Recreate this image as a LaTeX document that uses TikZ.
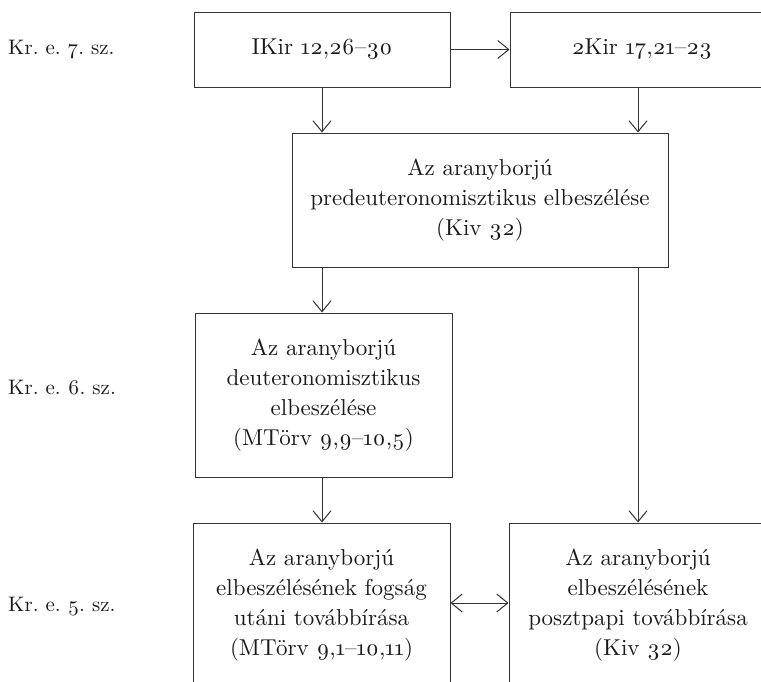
\documentclass[tikz,border=0pt]{standalone}
\usepackage{fontspec}
\setmainfont{lmroman10-regular.otf}[Numbers=OldStyle]
\usetikzlibrary{arrows.meta,calc}
\definecolor{linec}{HTML}{333333}
\definecolor{textc}{HTML}{1A1A1A}
\tikzset{
  box/.style={draw=linec, line width=1pt, rectangle, inner sep=0pt, align=center,
    text=textc, font=\fontsize{23}{30}\selectfont\frenchspacing},
  lab/.style={anchor=west, inner sep=0pt, text=textc, font=\fontsize{21}{30}\selectfont\frenchspacing},
  arr/.style={draw=linec, line width=1pt, -{Straight Barb[length=11pt,width=18pt,line width=1pt]}},
  darr/.style={draw=linec, line width=1pt, {Straight Barb[length=11pt,width=18pt,line width=1pt]}-{Straight Barb[length=11pt,width=18pt,line width=1pt]}}
}
\begin{document}
\begin{tikzpicture}[x=1pt,y=-1pt]
\useasboundingbox (0,0) rectangle (761,681);
\clip (0,0) rectangle (761,681);
% nodes
\node[box, minimum width=256pt, minimum height=75pt] (A) at (322,49.5) {IKir 12,26–30};
\node[box, minimum width=264pt, minimum height=75pt] (B) at (642,49.5) {2Kir 17,21–23};
\node[box, minimum width=376pt, minimum height=134pt] (C) at (480,200) {Az aranyborjú\\predeuteronomisztikus elbeszélése\\(Kiv 32)};
\node[box, minimum width=257pt, minimum height=164pt] (D) at (323.5,395) {Az aranyborjú\\deuteronomisztikus\\elbeszélése\\(MTörv 9,9–10,5)};
\node[box, minimum width=257pt, minimum height=164pt] (E) at (321.5,605) {Az aranyborjú\\elbeszélésének fogság\\utáni továbbírása\\(MTörv 9,1–10,11)};
\node[box, minimum width=258pt, minimum height=164pt] (F) at (638,605) {Az aranyborjú\\elbeszélésének\\posztpapi továbbírása\\(Kiv 32)};
\node[lab] (L7) at (8,50) {Kr. e. 7. sz.};
\node[lab] (L6) at (8,388) {Kr. e. 6. sz.};
\node[lab] (L5) at (8,607) {Kr. e. 5. sz.};
% connectors
\draw[arr] (A.east) -- (B.west);
\draw[arr] (A.south) -- (A.south |- C.north);
\draw[arr] (F.north |- B.south) -- (F.north |- C.north);
\draw[arr] (A.south |- C.south) -- (A.south |- D.north);
\draw[arr] (C.south -| F.north) -- (F.north);
\draw[arr] (A.south |- D.south) -- (A.south |- E.north);
\draw[darr] (E.east |- 0,603) -- (F.west |- 0,603);
\end{tikzpicture}
\end{document}
